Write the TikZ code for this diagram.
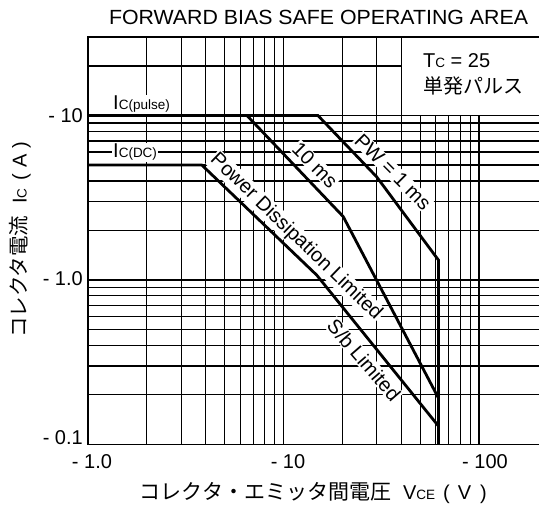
\documentclass[tikz,border=0pt]{standalone}
\usepackage{fontspec}
\setmainfont{Liberation Sans}
\newfontfamily\jpfont{Noto Sans CJK JP}
\newcommand{\fsz}[1]{\fontsize{#1}{#1}\selectfont}
\begin{document}
\begin{tikzpicture}[x=1pt,y=-1pt,
  declare function={px(\a)=88+195.5*log10(\a); py(\b)=280-164.5*log10(\b);},
  gridl/.style={line width=1.1pt},
  frame/.style={line width=1.8pt},
  curve/.style={line width=2.8pt},
  lbl/.style={font=\fsz{20}, inner sep=0pt},
  curvelbl/.style={font=\fsz{20}, fill=white, inner sep=1pt}
]
\useasboundingbox (0,0) rectangle (539,510);
% ---- grid ----
\foreach \vv in {2,3,4,5,6,7,8,9,10,20,30,40}
  \draw[gridl] ({px(\vv)},37) -- ({px(\vv)},444.5);
\foreach \vv in {50,60,70,80,90,100}
  \draw[gridl] ({px(\vv)},{py(10)}) -- ({px(\vv)},444.5);
\foreach \ii in {0.2,0.3,0.4,0.5,0.6,0.7,0.8,0.9,1,2,3,4,5,6,7,8,9,10}
  \draw[gridl] (88,{py(\ii)}) -- (539,{py(\ii)});
\draw[gridl] (88,{py(20)}) -- ({px(40)},{py(20)});
\draw[frame] (539,37) -- (88,37) -- (88,444.5) -- (539,444.5);
% ---- labels inside plot ----
\node[lbl, fill=white, inner sep=1pt, anchor=base west] (ipulse) at (112,110) {I{\fsz{13.5}C(pulse)}};
\node[lbl, fill=white, inner sep=1pt, anchor=base west] (idc) at (112,158) {I{\fsz{13.5}C(DC)}};
\node[lbl, anchor=base west] (tc) at (423,68) {T{\fsz{13.5}C} = 25};
\node[lbl, anchor=base west] (tan) at (423,94) {\jpfont 単発パルス};
\node[curvelbl, rotate=-45] (pwl) at (393,172) {PW = 1 ms};
\node[curvelbl, rotate=-45] (tenl) at (315,165) {10 ms};
\node[curvelbl, rotate=-44] (pdl) at (296,237) {Power Dissipation Limited};
\node[curvelbl, rotate=-49] (sbl) at (364,360) {S/b Limited};
% ---- curves ----
\coordinate (p0) at (88,{py(10)});
\coordinate (p1) at ({px(15)},{py(10)});
\coordinate (p2) at ({px(30)},{py(4.23)});
\coordinate (p3) at (438.5,{py(1.32)});
\coordinate (p4) at (438.5,444.5);
\coordinate (t0) at ({px(6.5)},{py(10)});
\coordinate (t1) at ({px(20.2)},{py(2.43)});
\coordinate (t2) at (438.5,{py(0.191)});
\coordinate (d0) at (88,{py(5)});
\coordinate (d1) at ({px(3.82)},{py(5)});
\coordinate (d2) at ({px(14.8)},{py(1.07)});
\coordinate (d3) at (438.5,{py(0.126)});
\draw[curve] (p0) -- (p1) -- (p2) -- (p3) -- (p4);
\draw[curve] (t0) -- (t1) -- (t2);
\draw[curve] (d0) -- (d1) -- (d2) -- (d3);
% ---- axis tick labels ----
\node[lbl, anchor=east] (y10) at (83,115.5) {- 10};
\node[lbl, anchor=east] (y1) at (83,279) {- 1.0};
\node[lbl, anchor=east] (y01) at (83,438) {- 0.1};
\node[lbl] (x1) at (92,461.5) {- 1.0};
\node[lbl] (x10) at (288,461.5) {- 10};
\node[lbl] (x100) at (485,461.5) {- 100};
% ---- titles ----
\node[font=\fsz{20.5}, inner sep=0pt, xscale=1.04] (title) at (318.5,17) {FORWARD BIAS SAFE OPERATING AREA};
\node[lbl, anchor=west] (xlab) at (135,493) {{\jpfont\fsz{21} コレクタ・エミッタ間電圧}\hspace{12pt}V{\fsz{13.5}CE}\hspace{8pt}(\hspace{8pt}V\hspace{9pt})};
\node[lbl, rotate=90] (ylab) at (20,242) {{\jpfont\fsz{20.5} コレクタ電流}\hspace{12pt}I{\fsz{13.5}C}\hspace{8pt}(\hspace{6pt}A\hspace{6pt})};
\end{tikzpicture}
\end{document}
